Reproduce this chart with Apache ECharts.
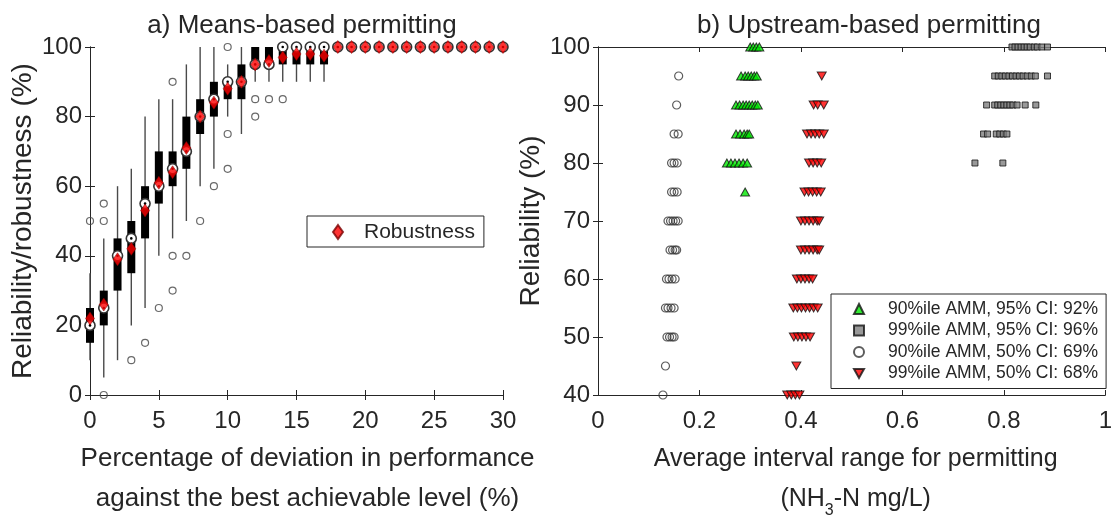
<!DOCTYPE html>
<html>
<head>
<meta charset="utf-8">
<script src="https://cdn.jsdelivr.net/npm/echarts@6/dist/echarts.min.js"></script>
<style>
  html, body { margin: 0; padding: 0; background: #fff; }
  #chart { width: 1115px; height: 524px; }
</style>
</head>
<body>
<div id="chart"></div>
<script>
// ---- a) Means-based permitting: one box per deviation level (%) ----
const deviation    = [0, 1, 2, 3, 4, 5, 6, 7, 8, 9, 10, 11, 12, 13, 14, 15, 16, 17, 18, 19, 20, 21, 22, 23, 24, 25, 26, 27, 28, 29, 30];
const whiskerLow   = [10, 5, 10, 20, 25, 40, 45, 50, 60, 65, 80, 75, 90, 90, 90, 90, 90, 90, 100, 100, 100, 100, 100, 100, 100, 100, 100, 100, 100, 100, 100];
const quartile1    = [15, 20, 30, 35, 45, 55, 60, 65, 75, 80, 85, 85, 95, 95, 95, 95, 95, 95, 100, 100, 100, 100, 100, 100, 100, 100, 100, 100, 100, 100, 100];
const medians      = [20, 25, 40, 45, 55, 60, 65, 70, 80, 85, 90, 90, 95, 95, 100, 100, 100, 100, 100, 100, 100, 100, 100, 100, 100, 100, 100, 100, 100, 100, 100];
const quartile3    = [25, 30, 45, 50, 60, 70, 70, 80, 85, 90, 90, 95, 100, 100, 100, 100, 100, 100, 100, 100, 100, 100, 100, 100, 100, 100, 100, 100, 100, 100, 100];
const whiskerHigh  = [35, 45, 60, 65, 80, 85, 85, 95, 100, 100, 95, 100, 100, 100, 100, 100, 100, 100, 100, 100, 100, 100, 100, 100, 100, 100, 100, 100, 100, 100, 100];
const robustness   = [22, 26, 39, 42, 53, 61, 64, 71, 80, 84, 88, 90, 95, 96, 97, 98, 98, 97.5, 100, 100, 100, 100, 100, 100, 100, 100, 100, 100, 100, 100, 100];

// outliers of the boxes
const outlierX = [0, 1, 1, 1, 3, 4, 5, 6, 6, 6, 7, 8, 9, 10, 10, 10, 12, 12, 13, 14];
const outlierY = [50, 0, 50, 55, 10, 15, 25, 30, 40, 90, 40, 50, 60, 65, 75, 100, 80, 85, 85, 85];

// ---- b) Upstream-based permitting: interval range (NH3-N mg/L) vs reliability (%) ----
const amm90ci95X = [0.300, 0.306, 0.312, 0.318,
                    0.282, 0.290, 0.296, 0.302, 0.308, 0.313,
                    0.272, 0.279, 0.286, 0.292, 0.298, 0.304, 0.310, 0.315,
                    0.272, 0.280, 0.288, 0.294, 0.298,
                    0.254, 0.262, 0.270, 0.278, 0.286, 0.294,
                    0.290];
const amm90ci95Y = [100, 100, 100, 100,
                    95, 95, 95, 95, 95, 95,
                    90, 90, 90, 90, 90, 90, 90, 90,
                    85, 85, 85, 85, 85,
                    80, 80, 80, 80, 80, 80,
                    75];

const amm99ci95X = [0.816, 0.822, 0.828, 0.834, 0.840, 0.846, 0.852, 0.860, 0.866, 0.875, 0.886,
                    0.782, 0.789, 0.796, 0.803, 0.810, 0.817, 0.824, 0.831, 0.838, 0.846, 0.854, 0.862, 0.886,
                    0.766, 0.782, 0.788, 0.794, 0.800, 0.806, 0.812, 0.818, 0.826, 0.842, 0.863,
                    0.760, 0.768, 0.785, 0.792, 0.799, 0.806,
                    0.743, 0.798];
const amm99ci95Y = [100, 100, 100, 100, 100, 100, 100, 100, 100, 100, 100,
                    95, 95, 95, 95, 95, 95, 95, 95, 95, 95, 95, 95, 95,
                    90, 90, 90, 90, 90, 90, 90, 90, 90, 90, 90,
                    85, 85, 85, 85, 85, 85,
                    80, 80];

const amm90ci50X = [0.159, 0.155, 0.150, 0.158, 0.145, 0.150, 0.156, 0.145, 0.150, 0.156,
                    0.138, 0.143, 0.148, 0.153, 0.158, 0.142, 0.147, 0.152, 0.155,
                    0.135, 0.140, 0.146, 0.152, 0.133, 0.138, 0.144, 0.150,
                    0.136, 0.141, 0.146, 0.150, 0.133, 0.128];
const amm90ci50Y = [95, 90, 85, 85, 80, 80, 80, 75, 75, 75,
                    70, 70, 70, 70, 70, 65, 65, 65, 65,
                    60, 60, 60, 60, 55, 55, 55, 55,
                    50, 50, 50, 50, 45, 40];

const amm99ci50X = [0.441, 0.425, 0.433, 0.445,
                    0.412, 0.420, 0.428, 0.436, 0.445,
                    0.416, 0.424, 0.432, 0.440,
                    0.407, 0.415, 0.423, 0.431, 0.439,
                    0.400, 0.408, 0.416, 0.424, 0.432, 0.436,
                    0.400, 0.408, 0.416, 0.424, 0.432, 0.436,
                    0.392, 0.400, 0.408, 0.416, 0.423,
                    0.385, 0.393, 0.401, 0.409, 0.417, 0.425, 0.433,
                    0.386, 0.394, 0.402, 0.410, 0.418,
                    0.391,
                    0.373, 0.381, 0.389, 0.397];
const amm99ci50Y = [95, 90, 90, 90,
                    85, 85, 85, 85, 85,
                    80, 80, 80, 80,
                    75, 75, 75, 75, 75,
                    70, 70, 70, 70, 70, 70,
                    65, 65, 65, 65, 65, 65,
                    60, 60, 60, 60, 60,
                    55, 55, 55, 55, 55, 55, 55,
                    50, 50, 50, 50, 50,
                    45,
                    40, 40, 40, 40];

const seriesNames = [
  '90%ile AMM, 95% CI: 92%',
  '99%ile AMM, 95% CI: 96%',
  '90%ile AMM, 50% CI: 69%',
  '99%ile AMM, 50% CI: 68%'
];

const ink = '#262626';
const font = '"Liberation Sans", Arial, sans-serif';

// pair up x / y lists
function pairs(xs, ys) {
  return xs.map((x, i) => [x, ys[i]]);
}

// box: whisker line, thick black box, target-like median
function renderBox(params, api) {
  const x = api.value(0);
  const lo = api.coord([x, api.value(1)]);
  const q1 = api.coord([x, api.value(2)]);
  const md = api.coord([x, api.value(3)]);
  const q3 = api.coord([x, api.value(4)]);
  const hi = api.coord([x, api.value(5)]);
  return {
    type: 'group',
    children: [
      { type: 'line', shape: { x1: lo[0], y1: lo[1], x2: hi[0], y2: hi[1] }, style: { stroke: '#4a4a4a', lineWidth: 1.4 } },
      { type: 'rect', shape: { x: q3[0] - 4, y: q3[1], width: 8, height: q1[1] - q3[1] }, style: { fill: '#000' } },
      { type: 'circle', shape: { cx: md[0], cy: md[1], r: 5 }, style: { fill: '#fff', stroke: '#333', lineWidth: 1.6 } },
      { type: 'circle', shape: { cx: md[0], cy: md[1], r: 1.3 }, style: { fill: '#000' } }
    ]
  };
}

// main axis (with labels) of a panel
function mainAxis(gridIndex, position, min, max, interval, name, nameGap, extra) {
  return Object.assign({
    type: 'value',
    gridIndex: gridIndex,
    position: position,
    min: min,
    max: max,
    interval: interval,
    name: name,
    nameLocation: 'middle',
    nameGap: nameGap,
    nameTextStyle: { color: ink, fontSize: 28, fontFamily: font, lineHeight: 30 },
    axisLine: { show: true, lineStyle: { color: ink, width: 1 } },
    axisTick: { show: true, inside: true, length: 5, lineStyle: { color: ink } },
    axisLabel: { color: ink, fontSize: 24, fontFamily: font, margin: 8 },
    splitLine: { show: false }
  }, extra || {});
}

// mirrored axis on the opposite side (box frame with ticks)
function frameAxis(gridIndex, position, min, max, interval) {
  return {
    type: 'value',
    gridIndex: gridIndex,
    position: position,
    min: min,
    max: max,
    interval: interval,
    axisLine: { show: true, lineStyle: { color: ink, width: 1 } },
    axisTick: { show: true, inside: true, length: 5, lineStyle: { color: ink } },
    axisLabel: { show: false },
    splitLine: { show: false }
  };
}

// x axis tick labels sit a bit lower than on y
const xLabelStyle = { color: ink, fontSize: 24, fontFamily: font, margin: 14 };

const chart = echarts.init(document.getElementById('chart'), null, { renderer: 'canvas' });

const option = {
  animation: false,
  backgroundColor: '#fff',
  title: [
    { text: 'a) Means-based permitting', left: 297, top: 8, textAlign: 'center',
      textStyle: { color: ink, fontSize: 26, fontWeight: 'normal', fontFamily: font, lineHeight: 26 } },
    { text: 'b) Upstream-based permitting', left: 864, top: 8, textAlign: 'center',
      textStyle: { color: ink, fontSize: 26, fontWeight: 'normal', fontFamily: font, lineHeight: 26 } }
  ],
  grid: [
    { left: 90, top: 47, width: 413, height: 363 },
    { left: 598, top: 47, width: 511, height: 363 }
  ],
  xAxis: [
    mainAxis(0, 'bottom', 0, 30, 5, 'Percentage of deviation in performance\nagainst the best achievable level (%)', 44, {
      axisLabel: xLabelStyle,
      nameTextStyle: { color: ink, fontSize: 26, fontFamily: font, lineHeight: 40, padding: [0, 0, 0, 22] }
    }),
    frameAxis(0, 'top', 0, 30, 5),
    mainAxis(1, 'bottom', 0, 1, 0.2, '{t|Average interval range for permitting}\n{t|(NH}{s|3}{t|-N mg/L)}', 44, {
      axisLabel: xLabelStyle,
      nameTextStyle: {
        color: ink, fontSize: 25, fontFamily: font, lineHeight: 40, padding: [0, 0, 0, 8],
        rich: {
          t: { color: ink, fontFamily: font, fontSize: 25, lineHeight: 40 },
          s: { color: ink, fontFamily: font, fontSize: 16, lineHeight: 40, verticalAlign: 'bottom' }
        }
      }
    }),
    frameAxis(1, 'top', 0, 1, 0.2)
  ],
  yAxis: [
    mainAxis(0, 'left', 0, 100, 20, 'Reliability/robustness (%)', 50),
    frameAxis(0, 'right', 0, 100, 20),
    mainAxis(1, 'left', 40, 100, 10, 'Reliability (%)', 43),
    frameAxis(1, 'right', 40, 100, 10)
  ],
  legend: [
    {
      data: ['Robustness'],
      left: 307, top: 216,
      orient: 'vertical',
      selectedMode: false,
      backgroundColor: '#fff',
      borderColor: ink, borderWidth: 1,
      padding: [4, 9, 3, 25],
      itemWidth: 10, itemHeight: 14,
      textStyle: { color: ink, fontSize: 21, fontFamily: font, lineHeight: 24, padding: [0, 0, 0, 16] }
    },
    {
      data: seriesNames,
      left: 831, top: 294,
      orient: 'vertical',
      selectedMode: false,
      backgroundColor: '#fff',
      borderColor: ink, borderWidth: 1,
      padding: [5, 8, 5, 22],
      itemGap: 1.5,
      itemWidth: 10, itemHeight: 10,
      textStyle: { color: ink, fontSize: 17.5, fontFamily: font, lineHeight: 20, padding: [0, 0, 0, 19] }
    }
  ],
  series: [
    {
      name: 'boxes',
      type: 'custom',
      xAxisIndex: 0, yAxisIndex: 0,
      renderItem: renderBox,
      encode: { x: 0, y: [1, 2, 3, 4, 5] },
      data: deviation.map((d, i) => [d, whiskerLow[i], quartile1[i], medians[i], quartile3[i], whiskerHigh[i]]),
      silent: true,
      z: 2
    },
    {
      name: 'outliers',
      type: 'scatter',
      xAxisIndex: 0, yAxisIndex: 0,
      symbol: 'circle', symbolSize: 7,
      itemStyle: { color: 'rgba(0,0,0,0)', borderColor: '#444', borderWidth: 1.2 },
      data: pairs(outlierX, outlierY),
      silent: true,
      z: 3
    },
    {
      name: 'Robustness',
      type: 'scatter',
      xAxisIndex: 0, yAxisIndex: 0,
      symbol: 'diamond', symbolSize: [9, 13],
      itemStyle: { color: '#ff0000', borderColor: '#7a0000', borderWidth: 0.6 },
      data: pairs(deviation, robustness),
      silent: true,
      z: 4
    },
    {
      name: seriesNames[0],
      type: 'scatter',
      xAxisIndex: 2, yAxisIndex: 2,
      symbol: 'triangle', symbolSize: [9, 8],
      itemStyle: { color: '#00e600', borderColor: '#111', borderWidth: 1 },
      data: pairs(amm90ci95X, amm90ci95Y),
      silent: true
    },
    {
      name: seriesNames[1],
      type: 'scatter',
      xAxisIndex: 2, yAxisIndex: 2,
      symbol: 'rect', symbolSize: 6,
      itemStyle: { color: '#808080', borderColor: '#111', borderWidth: 1 },
      data: pairs(amm99ci95X, amm99ci95Y),
      silent: true
    },
    {
      name: seriesNames[2],
      type: 'scatter',
      xAxisIndex: 2, yAxisIndex: 2,
      symbol: 'circle', symbolSize: 8,
      itemStyle: { color: 'rgba(0,0,0,0)', borderColor: '#333', borderWidth: 1.2 },
      data: pairs(amm90ci50X, amm90ci50Y),
      silent: true
    },
    {
      name: seriesNames[3],
      type: 'scatter',
      xAxisIndex: 2, yAxisIndex: 2,
      symbol: 'path://M0,0 L10,0 L5,9 Z', symbolSize: [9, 8],
      itemStyle: { color: '#ff0000', borderColor: '#111', borderWidth: 1 },
      data: pairs(amm99ci50X, amm99ci50Y),
      silent: true
    }
  ]
};

chart.setOption(option);
</script>
</body>
</html>
